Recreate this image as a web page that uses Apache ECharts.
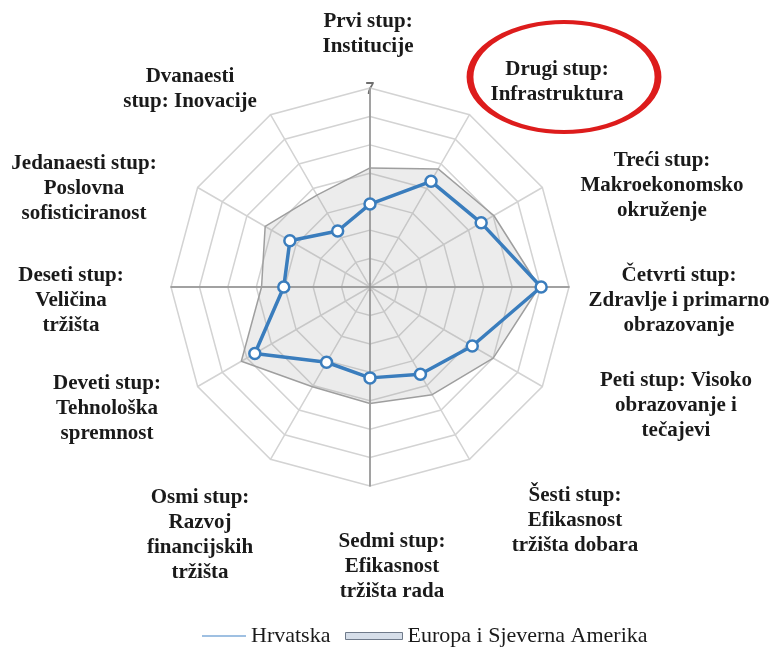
<!DOCTYPE html>
<html>
<head>
<meta charset="utf-8">
<script src="https://cdn.jsdelivr.net/npm/echarts@6/dist/echarts.min.js"></script>
<style>
  html, body { margin: 0; padding: 0; background: #fff; }
  #chart { width: 776px; height: 648px; }
</style>
</head>
<body>
<div id="chart"></div>
<script>
// pillar names, clockwise from the top
const pillars = [
  'Prvi stup:\nInstitucije',
  'Drugi stup:\nInfrastruktura',
  'Treći stup:\nMakroekonomsko\nokruženje',
  'Četvrti stup:\nZdravlje i primarno\nobrazovanje',
  'Peti stup: Visoko\nobrazovanje i\ntečajevi',
  'Šesti stup:\nEfikasnost\ntržišta dobara',
  'Sedmi stup:\nEfikasnost\ntržišta rada',
  'Osmi stup:\nRazvoj\nfinancijskih\ntržišta',
  'Deveti stup:\nTehnološka\nspremnost',
  'Deseti stup:\nVeličina\ntržišta',
  'Jedanaesti stup:\nPoslovna\nsofisticiranost',
  'Dvanaesti\nstup: Inovacije'
];
const hrvatska = [3.50, 4.68, 4.87, 6.16, 4.56, 4.04, 3.74, 3.62, 5.01, 3.60, 3.79, 2.95];
const europa = [4.59, 5.11, 5.31, 6.10, 5.29, 4.75, 4.51, 4.47, 5.48, 4.27, 4.65, 4.20];
const scaleMin = 1;
const scaleMax = 7;
const seriesNames = ['Hrvatska', 'Europa i Sjeverna Amerika'];

// where each pillar label sits (centre of the text block)
const labelPos = [
  [368, 34], [557, 82], [662, 186], [679, 301], [676, 406], [575, 521],
  [392, 567], [200, 535], [107, 409], [71, 301], [84, 189], [190, 89]
];

// echarts lays radar axes counter-clockwise, so walk the list backwards
const order = pillars.map((p, i) => (pillars.length - i) % pillars.length);
const ccw = arr => order.map(i => arr[i]);

const center = [370, 287];
const radius = 199;

const chart = echarts.init(document.getElementById('chart'));
chart.setOption({
  animation: false,
  radar: [
    {
      center: center, radius: radius, startAngle: 90, shape: 'polygon',
      splitNumber: 7,
      indicator: ccw(pillars).map(n => ({ name: n, min: scaleMin, max: scaleMax })),
      axisName: { show: false },
      axisLine: { lineStyle: { color: '#d3d3d3', width: 1.5 } },
      splitLine: { lineStyle: { color: '#d3d3d3', width: 1.5 } },
      splitArea: { show: false },
      axisLabel: { show: false },
    },
    {
      // darker cross through the middle
      center: center, radius: radius, startAngle: 90, shape: 'polygon',
      splitNumber: 7,
      indicator: [0, 1, 2, 3].map(() => ({ name: '', min: scaleMin, max: scaleMax })),
      axisName: { show: false },
      axisLine: { lineStyle: { color: '#8e8e8e', width: 1.5 } },
      splitLine: { show: false },
      splitArea: { show: false },
      axisLabel: { show: false },
    }
  ],
  legend: [
    {
      data: [seriesNames[0]], left: 197, top: 620,
      itemWidth: 44, itemHeight: 2, icon: 'rect',
      itemStyle: { color: '#9fc0e2', borderWidth: 0 },
      textStyle: { fontFamily: 'Liberation Serif', fontSize: 22, color: '#1a1a1a' },
    },
    {
      data: [seriesNames[1]], left: 340, top: 620,
      itemWidth: 57, itemHeight: 7, icon: 'rect',
      itemStyle: { color: '#d6dee9', borderColor: '#6f7a8a', borderWidth: 1 },
      textStyle: { fontFamily: 'Liberation Serif', fontSize: 22, color: '#1a1a1a' },
    }
  ],
  series: [
    {
      name: seriesNames[1], type: 'radar', radarIndex: 0, symbol: 'none',
      data: [{ name: seriesNames[1], value: ccw(europa) }],
      lineStyle: { color: '#a0a0a0', width: 1.5 },
      itemStyle: { color: '#a0a0a0' },
      areaStyle: { color: 'rgba(145,145,145,0.25)' },
      z: 2,
    },
    {
      name: seriesNames[0], type: 'radar', radarIndex: 0,
      symbol: 'circle', symbolSize: 11,
      data: [{ name: seriesNames[0], value: ccw(hrvatska) }],
      lineStyle: { color: '#3a7dbd', width: 3.5 },
      itemStyle: { color: '#ffffff', borderColor: '#3a7dbd', borderWidth: 2.5 },
      z: 3,
    }
  ],
  graphic: [
    ...pillars.map((p, i) => ({
      type: 'text', x: labelPos[i][0], y: labelPos[i][1],
      style: {
        text: p, font: 'bold 21px "Liberation Serif"', fill: '#1a1a1a',
        align: 'center', verticalAlign: 'middle', lineHeight: 25,
      }
    })),
    {
      type: 'text', x: center[0], y: center[1] - radius + 2,
      style: { text: String(scaleMax), font: 'bold 16px "Liberation Sans"', fill: '#6e6e6e', align: 'center', verticalAlign: 'middle' }
    },
    {
      type: 'text', x: center[0], y: center[1] + 1,
      style: { text: String(scaleMin), font: '10px "Liberation Sans"', fill: '#6b3b3b', align: 'center', verticalAlign: 'middle' }
    },
    {
      // red ring around the second pillar
      type: 'circle', x: 564, y: 77, scaleX: 94 / 55,
      shape: { cx: 0, cy: 0, r: 55 },
      style: { fill: 'none', stroke: '#dd1c1c', lineWidth: 4, strokeNoScale: true },
    }
  ]
});
</script>
</body>
</html>
